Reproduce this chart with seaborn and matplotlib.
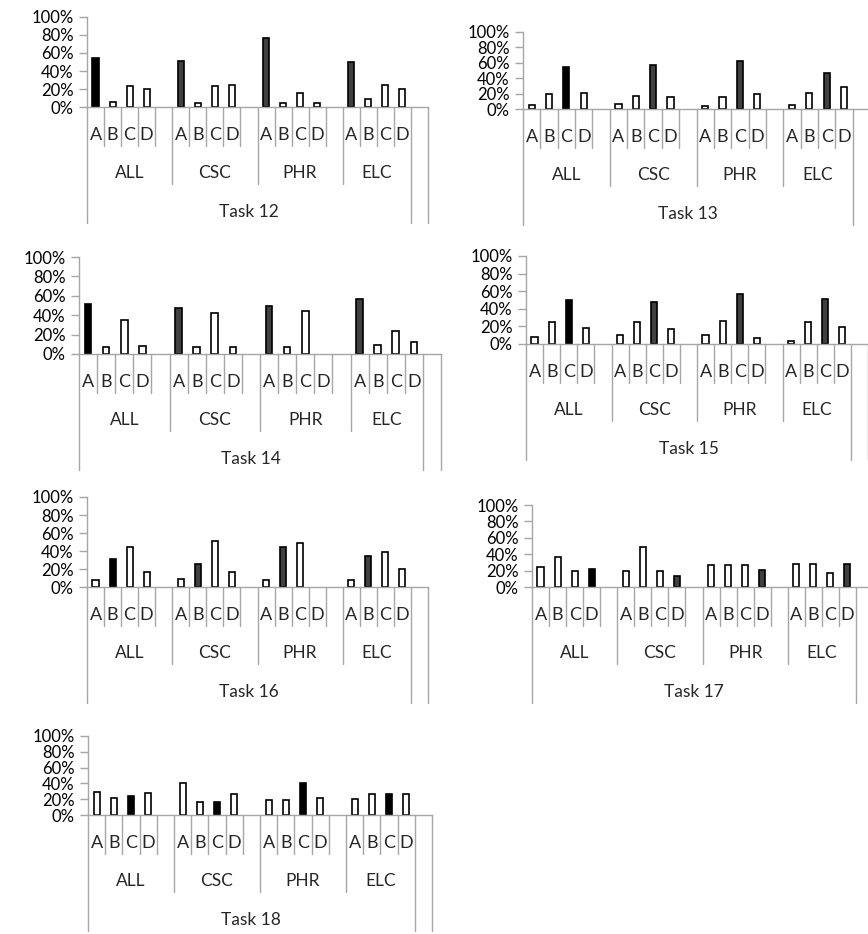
import numpy as np
import pandas as pd
import seaborn as sns
import matplotlib.pyplot as plt
import matplotlib.transforms as mtransforms
from matplotlib.ticker import PercentFormatter

sns.set_style("white")
plt.rcParams['font.family'] = ['Lato', 'DejaVu Sans']

# --- data (percent of answers per option) ---
groups = ['ALL', 'CSC', 'PHR', 'ELC']
options = ['A', 'B', 'C', 'D']
tasks = ['Task 12', 'Task 13', 'Task 14', 'Task 15', 'Task 16', 'Task 17', 'Task 18']
correct = ['A', 'C', 'A', 'C', 'B', 'D', 'C']

task12 = [[54, 5.5, 23, 20], [51, 4, 23, 24], [77, 4, 15, 4], [50, 9, 24, 20]]
task13 = [[5, 20, 54, 21], [7, 17, 57, 16], [3.5, 16, 62, 20], [5, 21, 47, 28]]
task14 = [[52, 7, 35, 8], [47, 7, 42, 7], [49.5, 7, 44, 0], [57, 9, 23.5, 12]]
task15 = [[8, 25, 50, 18], [10, 25, 48, 17], [10, 26, 57, 7], [3.5, 25, 51, 19]]
task16 = [[8, 31.5, 45, 17], [9, 25.5, 51, 17], [8, 44, 49, 0], [8, 34.5, 39, 20]]
task17 = [[24.5, 37, 19, 21.5], [19, 49, 20, 13], [27, 27, 27, 21], [28, 28, 17, 28]]
task18 = [[29.5, 22, 24.5, 27.5], [40, 17, 16, 27], [19.5, 19.5, 40.5, 22], [20, 27, 26, 27]]
task_values = [task12, task13, task14, task15, task16, task17, task18]

# --- layout (pixels): left, right, top(100%), baseline(0%) ---
W, H = 868, 934
panels = [
    (87, 428, 17, 107),
    (523, 870, 32, 109),
    (79, 441, 257, 354),
    (526, 868, 256, 344),
    (87, 428, 497, 587),
    (532, 873, 505, 587),
    (88, 432, 736, 815),
]
GRAY = '#a6a6a6'
DARK = '#404040'

# slot order: 5 slots per group (4 options + gap), ELC without gap, then one empty slot
order = []
for g in groups:
    order += [f'{g}-{o}' for o in options]
    if g != groups[-1]:
        order.append(f'{g}-gap')
order.append('next')

fig = plt.figure(figsize=(W / 100, H / 100), dpi=100)

for i, task in enumerate(tasks):
    left, right, top, base = panels[i]
    h_px = base - top
    ax = fig.add_axes([left / W, 1 - base / H, (right - left) / W, h_px / H])

    rows = []
    for g, vals in zip(groups, task_values[i]):
        for o, v in zip(options, vals):
            if v == 0:
                continue  # nobody chose it: no bar at all
            if o != correct[i]:
                kind = 'other'
            elif g == 'ALL' or task == 'Task 18':
                kind = 'key_all'
            else:
                kind = 'key'
            rows.append({'slot': f'{g}-{o}', 'share': v / 100, 'kind': kind})
    df = pd.DataFrame(rows)

    sns.barplot(data=df, x='slot', y='share', hue='kind', order=order,
                palette={'key_all': 'black', 'key': DARK, 'other': 'white'},
                dodge=False, width=0.36, saturation=1, edgecolor='black',
                linewidth=1.2, legend=False, ax=ax)

    ax.set_xlim(-0.5, len(order) - 0.5)
    ax.set_ylim(0, 1)
    ax.set_yticks(np.arange(0, 1.01, 0.2))
    ax.yaxis.set_major_formatter(PercentFormatter(1.0, decimals=0))
    ax.set_xticks([])
    ax.set_xlabel('')
    ax.set_ylabel('')
    ax.tick_params(axis='y', left=True, length=5.5, width=1, color=GRAY,
                   pad=4, labelsize=12, labelcolor='black')
    for s in ['top', 'right']:
        ax.spines[s].set_visible(False)
    for s in ['left', 'bottom']:
        ax.spines[s].set_color(GRAY)
        ax.spines[s].set_linewidth(1)

    # multi-level category axis drawn below the plot
    trans = mtransforms.blended_transform_factory(ax.transData, ax.transAxes)
    d_letter, d_group, d_task = 38.5 / h_px, 77 / h_px, 116 / h_px
    for k in range(len(order) + 1):
        if k in (0, 19, 20):
            d = d_task
        elif k in (5, 10, 15):
            d = d_group
        else:
            d = d_letter
        ax.plot([k - 0.5, k - 0.5], [0, -d], transform=trans, color=GRAY,
                lw=1, clip_on=False)

    for j, slot in enumerate(order):
        if slot.endswith(tuple('-' + o for o in options)):
            ax.text(j, -28 / h_px, slot[-1], transform=trans, ha='center',
                    va='center', fontsize=13)
    for gi, g in enumerate(groups):
        start = gi * 5 - 0.5
        end = start + (4 if g == groups[-1] else 5)
        ax.text((start + end) / 2, -66 / h_px, g, transform=trans,
                ha='center', va='center', fontsize=12.5)
    ax.text(9, -105 / h_px, task, transform=trans, ha='center', va='center',
            fontsize=12.5)

fig.savefig('out.png', dpi=100)
